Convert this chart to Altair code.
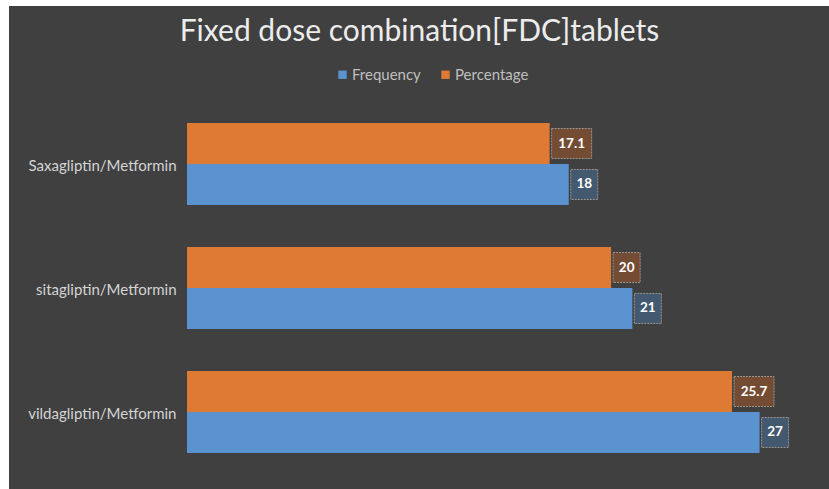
import altair as alt
import pandas as pd

# Chart values
categories = ["Saxagliptin/Metformin", "sitagliptin/Metformin", "vildagliptin/Metformin"]
frequency = [18, 21, 27]
percentage = [17.1, 20, 25.7]
series_names = ["Frequency", "Percentage"]
series_colors = ["#5a93cf", "#df7a35"]

rows = []
for cat, f, p in zip(categories, frequency, percentage):
    rows.append({"category": cat, "series": "Frequency", "value": f, "label": f"{f:g}"})
    rows.append({"category": cat, "series": "Percentage", "value": p, "label": f"{p:g}"})
df = pd.DataFrame(rows)

WIDTH, HEIGHT = 615, 372
XMAX = 29
PX_PER_UNIT = WIDTH / XMAX
BG = "#404040"
FONT = "Lato"

x_scale = alt.Scale(domain=[0, XMAX], nice=False, zero=True)
y_scale = alt.Scale(domain=categories, paddingInner=0.34, paddingOuter=0.17)
y_enc = alt.Y("category:N", scale=y_scale, sort=categories, title=None,
              axis=alt.Axis(domain=False, ticks=False, labelPadding=11,
                            labelFontSize=15, labelColor="#d4d4d4", labelFont=FONT,
                            labelLimit=300, labelOffset=2, zindex=2))
yoff = alt.YOffset("series:N", sort=["Percentage", "Frequency"],
                   scale=alt.Scale(paddingInner=0, paddingOuter=0))

base = alt.Chart(df)

# dark panel behind everything
backdrop = alt.Chart(alt.Data(values=[{}])).mark_rect(color=BG).encode(
    x=alt.value(-178), x2=alt.value(642), y=alt.value(-96), y2=alt.value(387)
)

bars = base.mark_bar().encode(
    x=alt.X("value:Q", scale=x_scale, axis=None),
    y=y_enc,
    yOffset=yoff,
    color=alt.Color("series:N", scale=alt.Scale(domain=series_names, range=series_colors),
                    legend=alt.Legend(title=None, orient="none", legendX=148, legendY=-35,
                                      direction="horizontal", symbolType="square",
                                      symbolSize=70, symbolStrokeWidth=0,
                                      labelColor="#bfbfbf", labelFontSize=15,
                                      labelFont=FONT, columnPadding=17, labelOffset=2,
                                      padding=0, zindex=2)),
)

boxes = base.transform_calculate(
    box_end=f"datum.value + (6.5 * length(datum.label) + 14) / {PX_PER_UNIT}",
    box_fill="datum.series == 'Frequency' ? '#43596f' : '#744c33'",
).mark_bar(height=30, xOffset=2, x2Offset=2, stroke="#9c9590", strokeWidth=1,
           strokeDash=[2, 1]).encode(
    x=alt.X("value:Q", scale=x_scale, axis=None),
    x2="box_end:Q",
    y=y_enc,
    yOffset=yoff,
    fill=alt.Fill("box_fill:N", scale=None),
)

labels = base.transform_calculate(
    mid=f"datum.value + (6.5 * length(datum.label) + 14) / {PX_PER_UNIT} / 2",
).mark_text(color="white", fontWeight="bold", fontSize=13.5, font=FONT, dx=2).encode(
    x=alt.X("mid:Q", scale=x_scale, axis=None),
    y=y_enc,
    yOffset=yoff,
    text="label:N",
)

chart = alt.layer(backdrop, bars, boxes, labels).properties(
    width=WIDTH,
    height=HEIGHT,
    title=alt.TitleParams("Fixed dose combination[FDC]tablets", fontSize=30, font=FONT,
                          fontWeight="normal", color="#ececec", anchor="middle",
                          dx=-75, offset=-41),
    background="white",
    padding={"left": 187, "top": 102, "right": 27, "bottom": 15},
    autosize=alt.AutoSizeParams(type="none"),
).configure_view(stroke=None)

chart.save("out.html", embed_options={"renderer": "svg", "actions": False})
